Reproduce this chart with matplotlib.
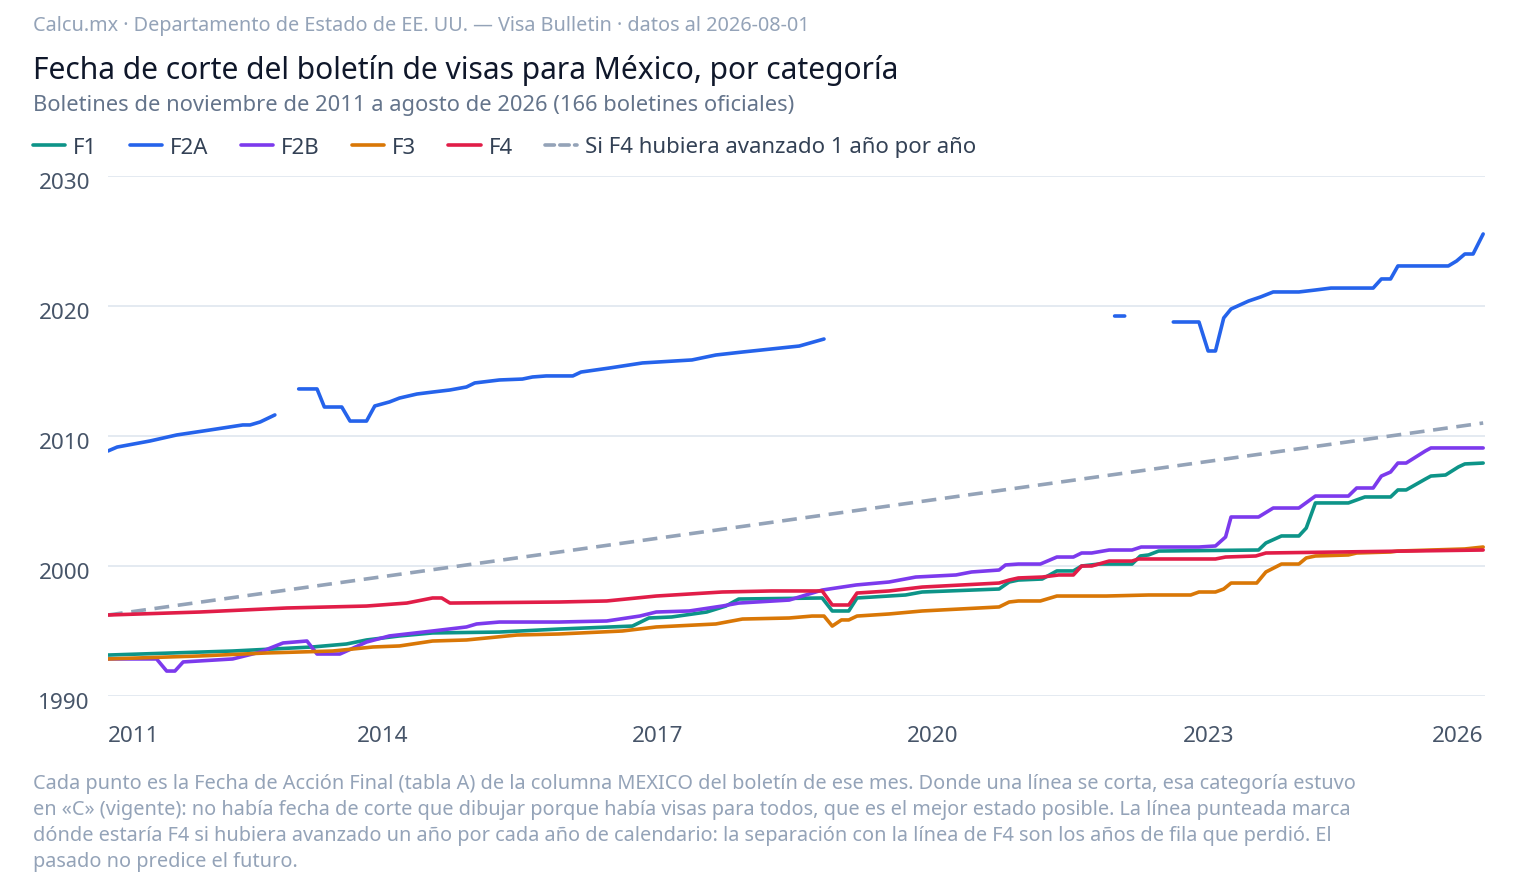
import numpy as np
import matplotlib
matplotlib.use("Agg")
import matplotlib.pyplot as plt
import matplotlib.transforms as mtransforms
from matplotlib.lines import Line2D

plt.rcParams['font.family'] = ['Noto Sans', 'DejaVu Sans']

# ---------------- data (x = position on the chart's year axis, y = cutoff year) ----------------
f1_x = [2011.00, 2012.36, 2013.23, 2013.60, 2013.82, 2014.18, 2014.54, 2015.27, 2015.92, 2016.72,
        2016.90, 2017.15, 2017.53, 2017.74, 2017.88, 2018.79, 2018.90, 2019.08, 2019.17, 2019.70,
        2019.88, 2020.72, 2020.83, 2020.93, 2021.19, 2021.35, 2021.53, 2021.62, 2021.81, 2022.17,
        2022.26, 2022.35, 2022.46, 2023.55, 2023.63, 2023.80, 2023.99, 2024.07, 2024.17, 2024.53,
        2024.71, 2024.99, 2025.07, 2025.16, 2025.37, 2025.43, 2025.59, 2025.73, 2025.80, 2026.00]
f1_y = [1993.15, 1993.46, 1993.77, 1994.00, 1994.31, 1994.62, 1994.85, 1994.92, 1995.15, 1995.38,
        1996.00, 1996.08, 1996.46, 1996.92, 1997.46, 1997.54, 1996.54, 1996.54, 1997.54, 1997.77,
        1998.00, 1998.23, 1998.77, 1998.92, 1999.00, 1999.62, 1999.62, 2000.00, 2000.15, 2000.15,
        2000.77, 2000.85, 2001.15, 2001.23, 2001.77, 2002.31, 2002.31, 2002.92, 2004.85, 2004.85,
        2005.31, 2005.31, 2005.85, 2005.85, 2006.69, 2006.92, 2007.00, 2007.62, 2007.85, 2007.92]

nan = float('nan')
f2a_x = [2011.00, 2011.10, 2011.46, 2011.75, 2012.11, 2012.47, 2012.55, 2012.66, 2012.82, 2012.95,
         2013.08, 2013.28, 2013.36, 2013.55, 2013.64, 2013.82, 2013.91, 2014.07, 2014.18, 2014.37,
         2014.54, 2014.73, 2014.91, 2015.00, 2015.27, 2015.52, 2015.63, 2015.78, 2016.07, 2016.16,
         2016.47, 2016.83, 2017.37, 2017.63, 2017.92, 2018.54, 2018.81, 2020.40,
         2021.98, 2022.09, 2022.35,
         2022.62, 2022.90, 2023.00, 2023.08, 2023.17, 2023.25, 2023.44, 2023.57, 2023.71, 2023.99,
         2024.17, 2024.34, 2024.80, 2024.89, 2024.99, 2025.07, 2025.62, 2025.71, 2025.80, 2025.89,
         2026.00]
f2a_y = [2008.85, 2009.15, 2009.62, 2010.08, 2010.46, 2010.85, 2010.85, 2011.08, 2011.62, nan,
         2013.62, 2013.62, 2012.23, 2012.23, 2011.15, 2011.15, 2012.31, 2012.62, 2012.92, 2013.23,
         2013.38, 2013.54, 2013.77, 2014.08, 2014.31, 2014.38, 2014.54, 2014.62, 2014.62, 2014.92,
         2015.23, 2015.62, 2015.85, 2016.23, 2016.46, 2016.92, 2017.46, nan,
         2019.23, 2019.23, nan,
         2018.77, 2018.77, 2016.54, 2016.54, 2019.08, 2019.77, 2020.38, 2020.69, 2021.08, 2021.08,
         2021.23, 2021.38, 2021.38, 2022.08, 2022.08, 2023.08, 2023.08, 2023.46, 2024.00, 2024.00,
         2025.54]

f2b_x = [2011.00, 2011.53, 2011.64, 2011.73, 2011.82, 2012.36, 2012.66, 2012.91, 2013.17, 2013.28,
         2013.53, 2013.82, 2014.07, 2014.54, 2014.91, 2015.02, 2015.27, 2015.92, 2016.44, 2016.80,
         2016.98, 2017.34, 2017.70, 2017.88, 2018.43, 2018.79, 2019.16, 2019.52, 2019.81, 2020.25,
         2020.42, 2020.72, 2020.79, 2020.93, 2021.17, 2021.35, 2021.53, 2021.62, 2021.73, 2021.92,
         2022.17, 2022.27, 2022.90, 2023.08, 2023.19, 2023.25, 2023.55, 2023.71, 2023.99, 2024.17,
         2024.53, 2024.62, 2024.80, 2024.89, 2024.99, 2025.07, 2025.16, 2025.37, 2025.43, 2026.00]
f2b_y = [1992.85, 1992.85, 1991.92, 1991.92, 1992.62, 1992.85, 1993.38, 1994.08, 1994.23, 1993.23,
         1993.23, 1994.15, 1994.62, 1995.00, 1995.31, 1995.54, 1995.69, 1995.69, 1995.77, 1996.15,
         1996.46, 1996.54, 1996.92, 1997.15, 1997.38, 1998.15, 1998.54, 1998.77, 1999.15, 1999.31,
         1999.54, 1999.69, 2000.08, 2000.15, 2000.15, 2000.69, 2000.69, 2001.00, 2001.00, 2001.23,
         2001.23, 2001.46, 2001.46, 2001.54, 2002.23, 2003.77, 2003.77, 2004.46, 2004.46, 2005.38,
         2005.38, 2006.00, 2006.00, 2006.92, 2007.23, 2007.92, 2007.92, 2008.85, 2009.08, 2009.08]

f3_x = [2011.00, 2012.00, 2012.73, 2013.45, 2013.89, 2014.18, 2014.54, 2014.91, 2015.46, 2015.92,
        2016.61, 2016.98, 2017.63, 2017.92, 2018.43, 2018.68, 2018.81, 2018.90, 2019.00, 2019.08,
        2019.17, 2019.52, 2019.88, 2020.72, 2020.83, 2020.93, 2021.17, 2021.35, 2021.89, 2022.35,
        2022.81, 2022.90, 2023.08, 2023.17, 2023.25, 2023.53, 2023.63, 2023.80, 2023.99, 2024.07,
        2024.17, 2024.53, 2024.62, 2024.99, 2025.07, 2025.80, 2026.00]
f3_y = [1992.85, 1993.08, 1993.31, 1993.46, 1993.77, 1993.85, 1994.23, 1994.31, 1994.69, 1994.77,
        1995.00, 1995.31, 1995.54, 1995.92, 1996.00, 1996.15, 1996.15, 1995.38, 1995.85, 1995.85,
        1996.15, 1996.31, 1996.54, 1996.85, 1997.23, 1997.31, 1997.31, 1997.69, 1997.69, 1997.77,
        1997.77, 1998.00, 1998.00, 1998.23, 1998.69, 1998.69, 1999.54, 2000.15, 2000.15, 2000.62,
        2000.77, 2000.85, 2001.00, 2001.08, 2001.15, 2001.31, 2001.46]

f4_x = [2011.00, 2012.00, 2012.95, 2013.82, 2014.26, 2014.54, 2014.64, 2014.73, 2015.92, 2016.44,
        2016.98, 2017.70, 2018.24, 2018.79, 2018.90, 2019.08, 2019.17, 2019.52, 2019.88, 2020.72,
        2020.83, 2020.93, 2021.19, 2021.37, 2021.53, 2021.62, 2021.73, 2021.92, 2022.17, 2022.24,
        2023.08, 2023.19, 2023.52, 2023.63, 2026.00]
f4_y = [1996.23, 1996.46, 1996.77, 1996.92, 1997.15, 1997.54, 1997.54, 1997.15, 1997.23, 1997.31,
        1997.69, 1998.00, 1998.08, 1998.08, 1997.00, 1997.00, 1997.92, 1998.08, 1998.38, 1998.69,
        1998.92, 1999.08, 1999.15, 1999.31, 1999.31, 2000.00, 2000.00, 2000.38, 2000.38, 2000.54,
        2000.54, 2000.69, 2000.77, 2001.00, 2001.23]

pace_x = [2011.00, 2026.00]
pace_y = [1996.23, 2011.00]

series_names = ['F1', 'F2A', 'F2B', 'F3', 'F4']
pace_name = 'Si F4 hubiera avanzado 1 año por año'
x_ticks = [2011, 2014, 2017, 2020, 2023, 2026]
y_ticks = [1990, 2000, 2010, 2020, 2030]

source_text = 'Calcu.mx · Departamento de Estado de EE. UU. — Visa Bulletin · datos al 2026-08-01'
title_text = 'Fecha de corte del boletín de visas para México, por categoría'
subtitle_text = 'Boletines de noviembre de 2011 a agosto de 2026 (166 boletines oficiales)'
footer_lines = [
    'Cada punto es la Fecha de Acción Final (tabla A) de la columna MEXICO del boletín de ese mes. Donde una línea se corta, esa categoría estuvo',
    'en «C» (vigente): no había fecha de corte que dibujar porque había visas para todos, que es el mejor estado posible. La línea punteada marca',
    'dónde estaría F4 si hubiera avanzado un año por cada año de calendario: la separación con la línea de F4 son los años de fila que perdió. El',
    'pasado no predice el futuro.',
]

# ---------------- styling ----------------
colors = {'F1': '#0d9488', 'F2A': '#2563eb', 'F2B': '#7c3aed', 'F3': '#d97706', 'F4': '#e11d48'}
pace_color = '#94a3b8'
W, H = 1520, 878
fig = plt.figure(figsize=(W / 100, H / 100), dpi=100)
ax = fig.add_axes([108 / W, 1 - 697 / H, (1485 - 108) / W, (697 - 177) / H])

lw = 2.6
ax.plot(pace_x, pace_y, color=pace_color, lw=lw, dashes=(4.1, 2.4), label=pace_name, zorder=2)
data = {'F1': (f1_x, f1_y), 'F2A': (f2a_x, f2a_y), 'F2B': (f2b_x, f2b_y),
        'F3': (f3_x, f3_y), 'F4': (f4_x, f4_y)}
handles = []
for name in series_names:
    xs, ys = data[name]
    ln, = ax.plot(xs, ys, color=colors[name], lw=lw, solid_capstyle='round',
                  solid_joinstyle='round', label=name, zorder=3)
    handles.append(ln)
pace_handle = Line2D([], [], color=pace_color, lw=lw, dashes=(2.6, 1.5),
                     dash_capstyle='round', label=pace_name)
handles.append(pace_handle)

ax.set_xlim(2011, 2026.02)
ax.set_ylim(1990, 2030)
ax.set_yticks(y_ticks)
ax.set_yticklabels([str(v) for v in y_ticks])
ax.set_xticks(x_ticks)
ax.set_xticklabels([str(v) for v in x_ticks])
xl = ax.get_xticklabels()
xl[0].set_horizontalalignment('left')
xl[-1].set_horizontalalignment('right')
ax.tick_params(axis='both', length=0, labelsize=16.2, labelcolor='#475569')
ax.tick_params(axis='y', pad=13)
ax.tick_params(axis='x', pad=21)
shift_down = mtransforms.ScaledTranslation(0, -7 / 100, fig.dpi_scale_trans)
for lab in ax.get_yticklabels():
    lab.set_verticalalignment('center')
    lab.set_transform(lab.get_transform() + shift_down)
ax.grid(axis='y', color='#e2e8f0', lw=1.3)
ax.grid(axis='x', visible=False)
ax.set_axisbelow(True)
for s in ax.spines.values():
    s.set_visible(False)

fig.text(33 / W, 1 - 26 / H, source_text, fontsize=14.3, color='#94a3b8', va='center', ha='left')
fig.text(33 / W, 1 - 70 / H, title_text, fontsize=21.6, color='#0f172a', va='center', ha='left')
fig.text(33 / W, 1 - 106 / H, subtitle_text, fontsize=15.8, color='#64748b', va='center', ha='left')

leg = fig.legend(handles=handles, loc='center left', bbox_to_anchor=(33 / W, 1 - 148 / H),
                 ncol=6, frameon=False, fontsize=16, handlelength=1.45, handletextpad=0.36,
                 columnspacing=1.45, borderpad=0, borderaxespad=0)
for t in leg.get_texts():
    t.set_color('#334155')

for i, line in enumerate(footer_lines):
    fig.text(33 / W, 1 - (784 + 26 * i) / H, line, fontsize=14.35, color='#94a3b8',
             va='center', ha='left')

fig.savefig('out.png', dpi=100, facecolor='white')
